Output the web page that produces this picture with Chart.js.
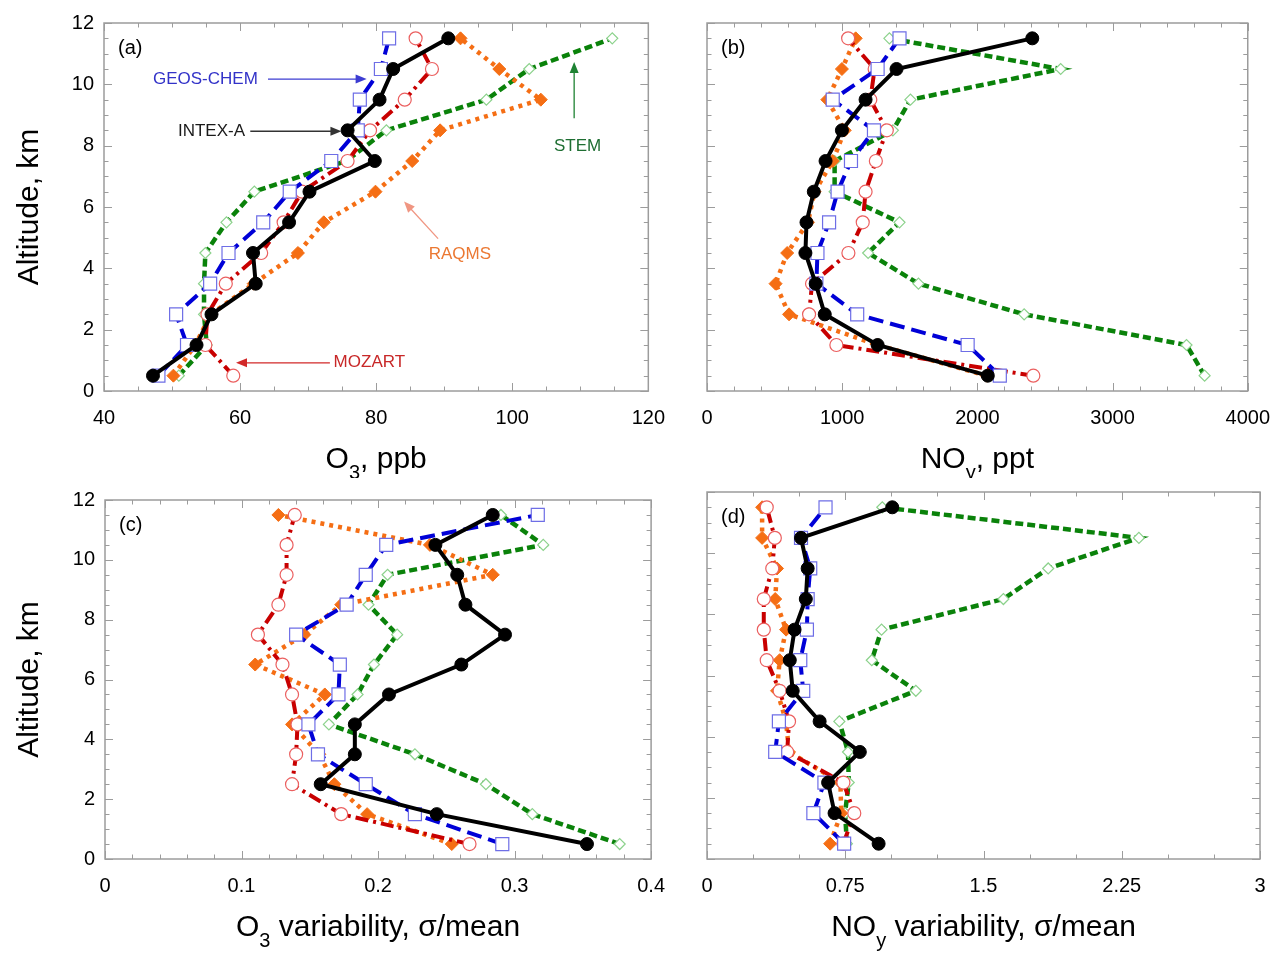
<!DOCTYPE html>
<html>
<head>
<meta charset="utf-8">
<title>INTEX-A vertical profiles</title>
<script src="https://cdn.jsdelivr.net/npm/chart.js@4/dist/chart.umd.min.js"></script>
<style>
  body { margin: 0; background: #fff; }
  #page { position: relative; width: 1285px; height: 956px; overflow: hidden; }
  canvas { position: absolute; }
</style>
</head>
<body>
<div id="page">
  <canvas id="chart-a" width="680" height="478" style="left:0;top:0"></canvas>
  <canvas id="chart-b" width="605" height="478" style="left:680px;top:0"></canvas>
  <canvas id="chart-c" width="680" height="478" style="left:0;top:478px"></canvas>
  <canvas id="chart-d" width="605" height="478" style="left:680px;top:478px"></canvas>
</div>
<script>
// Altitude bins (km), shared by every panel
const altitudes = [0.5, 1.5, 2.5, 3.5, 4.5, 5.5, 6.5, 7.5, 8.5, 9.5, 10.5, 11.5];
const seriesNames = ['INTEX-A', 'GEOS-CHEM', 'MOZART', 'RAQMS', 'STEM'];

// (a) O3, ppb
const o3Intex  = [47.2, 53.6, 55.8, 62.3, 61.9, 67.2, 70.2, 79.8, 75.8, 80.5, 82.5, 90.6];
const o3Geos   = [48.0, 52.2, 50.6, 55.6, 58.3, 63.4, 67.3, 73.4, 77.3, 77.6, 80.7, 81.9];
const o3Mozart = [59.0, 54.9, 55.2, 57.9, 63.1, 66.4, 69.1, 75.8, 79.1, 84.2, 88.2, 85.8];
const o3Raqms  = [50.2, 53.4, 55.7, 62.0, 68.5, 72.3, 79.9, 85.3, 89.4, 104.2, 98.1, 92.4];
const o3Stem   = [51.0, 55.1, 54.7, 54.7, 54.9, 58.0, 62.1, 75.6, 81.5, 96.2, 102.5, 114.7];

// (b) NOy, ppt
const noyIntex  = [2077, 1262, 871, 804, 728, 736, 790, 877, 998, 1173, 1402, 2406];
const noyGeos   = [2166, 1928, 1111, 809, 817, 903, 966, 1065, 1235, 930, 1262, 1424];
const noyMozart = [2414, 957, 755, 777, 1046, 1152, 1173, 1249, 1330, 1208, 1240, 1044];
const noyRaqms  = [2069, 1262, 607, 507, 593, 747, 796, 930, 1019, 890, 998, 1100];
const noyStem   = [3681, 3547, 2346, 1564, 1192, 1424, 944, 944, 1375, 1505, 2616, 1349];

// (c) O3 variability, sigma/mean
const o3vIntex  = [0.353, 0.243, 0.158, 0.183, 0.183, 0.208, 0.261, 0.293, 0.264, 0.258, 0.242, 0.284];
const o3vGeos   = [0.291, 0.227, 0.191, 0.156, 0.149, 0.171, 0.172, 0.140, 0.177, 0.191, 0.206, 0.317];
const o3vMozart = [0.267, 0.173, 0.137, 0.140, 0.141, 0.137, 0.130, 0.112, 0.127, 0.133, 0.133, 0.139];
const o3vRaqms  = [0.254, 0.192, 0.168, 0.157, 0.137, 0.161, 0.110, 0.146, 0.173, 0.284, 0.238, 0.127];
const o3vStem   = [0.377, 0.313, 0.279, 0.227, 0.164, 0.185, 0.197, 0.214, 0.193, 0.207, 0.321, 0.290];

// (d) NOy variability, sigma/mean
const noyvIntex  = [0.931, 0.692, 0.657, 0.829, 0.611, 0.465, 0.449, 0.475, 0.536, 0.546, 0.510, 1.005];
const noyvGeos   = [0.744, 0.577, 0.637, 0.370, 0.390, 0.522, 0.506, 0.542, 0.546, 0.560, 0.510, 0.643];
const noyvMozart = [0.740, 0.799, 0.740, 0.435, 0.445, 0.394, 0.324, 0.308, 0.308, 0.354, 0.368, 0.324];
const noyvRaqms  = [0.668, 0.728, 0.724, 0.445, 0.429, 0.380, 0.394, 0.429, 0.370, 0.380, 0.299, 0.299];
const noyvStem   = [0.759, 0.749, 0.769, 0.765, 0.718, 1.133, 0.894, 0.947, 1.608, 1.851, 2.343, 0.951];

// Axis tick settings
const yTicks = { min: 0, max: 12, step: 2, minor: 0.5 };
const xTicksA = { min: 40, max: 120, step: 20, minor: 5 };
const xTicksB = { min: 0, max: 4000, step: 1000, minor: 200 };
const xTicksC = { min: 0, max: 0.4, step: 0.1, minor: 0.02 };
const xTicksD = { min: 0, max: 3, step: 0.75, minor: 0.25 };

const FONT = '"Liberation Sans", Arial, Helvetica, sans-serif';

// line / marker style per model, same order as seriesNames
const seriesStyles = [
    { color: '#000000', width: 4, dash: [], point: 'circle', radius: 6.5, fill: '#000000', edge: '#000000', edgeWidth: 1 },
    { color: 'rgb(0,0,215)', width: 4, dash: [15, 7], point: 'rect', radius: 9.2, fill: '#ffffff', edge: 'rgb(110,110,230)', edgeWidth: 1.2 },
    { color: 'rgb(200,0,0)', width: 4, dash: [13, 5, 3, 5], point: 'circle', radius: 6.5, fill: '#ffffff', edge: 'rgb(235,95,95)', edgeWidth: 1.2 },
    { color: 'rgb(245,110,20)', width: 4.5, dash: [4, 5], point: 'rectRot', radius: 6.5, fill: 'rgb(245,110,20)', edge: 'rgb(245,110,20)', edgeWidth: 1 },
    { color: 'rgb(10,130,10)', width: 4.5, dash: [8, 4], point: 'rectRot', radius: 5.5, fill: '#ffffff', edge: 'rgb(140,210,140)', edgeWidth: 1.2 }
];

// panel (a) callouts, in data coordinates
const notesA = [
    { text: 'GEOS-CHEM', x: 54.9, y: 10.17, color: 'rgb(50,50,200)' },
    { text: 'INTEX-A', x: 55.8, y: 8.47, color: '#1a1a1a' },
    { text: 'STEM', x: 109.6, y: 7.98, color: 'rgb(30,110,50)' },
    { text: 'RAQMS', x: 92.3, y: 4.45, color: 'rgb(235,120,50)' },
    { text: 'MOZART', x: 79.0, y: 0.92, color: 'rgb(200,40,40)' }
];
const arrowsA = [
    { from: [64.1, 10.17], to: [78.6, 10.17], color: 'rgb(60,60,210)' },
    { from: [61.5, 8.47], to: [74.9, 8.47], color: '#333333' },
    { from: [109.1, 8.89], to: [109.1, 10.73], color: 'rgb(30,130,50)' },
    { from: [89.1, 4.97], to: [84.1, 6.18], color: 'rgb(240,150,130)' },
    { from: [73.2, 0.92], to: [59.4, 0.92], color: 'rgb(210,40,40)' }
];

function fmt(v) {
    return String(parseFloat(Number(v).toFixed(3)));
}

function strokeLine(ctx, x1, y1, x2, y2) {
    ctx.beginPath();
    ctx.moveTo(x1, y1);
    ctx.lineTo(x2, y2);
    ctx.stroke();
}

function drawArrow(ctx, x1, y1, x2, y2, color) {
    const ang = Math.atan2(y2 - y1, x2 - x1);
    const head = 11, half = 4.5;
    ctx.strokeStyle = color;
    ctx.fillStyle = color;
    ctx.lineWidth = 1.3;
    strokeLine(ctx, x1, y1, x2 - Math.cos(ang) * head * 0.8, y2 - Math.sin(ang) * head * 0.8);
    ctx.beginPath();
    ctx.moveTo(x2, y2);
    ctx.lineTo(x2 - Math.cos(ang) * head - Math.sin(ang) * half, y2 - Math.sin(ang) * head + Math.cos(ang) * half);
    ctx.lineTo(x2 - Math.cos(ang) * head + Math.sin(ang) * half, y2 - Math.sin(ang) * head - Math.cos(ang) * half);
    ctx.closePath();
    ctx.fill();
}

// text made of pieces, some of them subscripts
function drawParts(ctx, parts, cx, baseline, size) {
    const subSize = Math.round(size * 0.68);
    let total = 0;
    parts.forEach(p => {
        ctx.font = (p.sub ? subSize : size) + 'px ' + FONT;
        total += ctx.measureText(p.t).width;
    });
    let x = cx - total / 2;
    ctx.fillStyle = '#000';
    ctx.textAlign = 'left';
    ctx.textBaseline = 'alphabetic';
    parts.forEach(p => {
        ctx.font = (p.sub ? subSize : size) + 'px ' + FONT;
        ctx.fillText(p.t, x, baseline + (p.sub ? size * 0.36 : 0));
        x += ctx.measureText(p.t).width;
    });
}

const panelDecor = {
    id: 'panelDecor',
    beforeDatasetsDraw(chart, args, opts) {
        const { ctx, chartArea: a, scales: { x, y } } = chart;
        ctx.save();
        ctx.strokeStyle = '#9c9c9c';
        ctx.lineWidth = 1;
        const xTicks = (step, len) => {
            const n = Math.round((x.max - x.min) / step);
            for (let k = 0; k <= n; k++) {
                const px = Math.round(x.getPixelForValue(x.min + k * step)) + 0.5;
                strokeLine(ctx, px, a.bottom, px, a.bottom - len);
                strokeLine(ctx, px, a.top, px, a.top + len);
            }
        };
        const yTicksDraw = (step, len) => {
            const n = Math.round((y.max - y.min) / step);
            for (let k = 0; k <= n; k++) {
                const py = Math.round(y.getPixelForValue(y.min + k * step)) + 0.5;
                strokeLine(ctx, a.left, py, a.left + len, py);
                strokeLine(ctx, a.right, py, a.right - len, py);
            }
        };
        xTicks(opts.xMinor, 4.5);
        xTicks(opts.xStep, 8);
        yTicksDraw(yTicks.minor, 4.5);
        yTicksDraw(yTicks.step, 8);
        ctx.lineWidth = 1.5;
        ctx.strokeRect(a.left, a.top, a.right - a.left, a.bottom - a.top);
        ctx.restore();
    },
    afterDraw(chart, args, opts) {
        const { ctx, chartArea: a, scales: { x, y } } = chart;
        ctx.save();
        // panel letter
        ctx.font = '20px ' + FONT;
        ctx.fillStyle = '#000';
        ctx.textAlign = 'left';
        ctx.textBaseline = 'middle';
        ctx.fillText(opts.letter, a.left + 14, a.top + 25);

        // x axis title
        drawParts(ctx, opts.xTitle, (a.left + a.right) / 2, a.bottom + opts.titleGap, 30);

        // y axis title
        if (opts.yTitle) {
            ctx.save();
            ctx.translate(30, (a.top + a.bottom) / 2);
            ctx.rotate(-Math.PI / 2);
            ctx.font = '30px ' + FONT;
            ctx.textAlign = 'center';
            ctx.textBaseline = 'middle';
            ctx.fillStyle = '#000';
            ctx.fillText(opts.yTitle, 0, 0);
            ctx.restore();
        }

        // callouts
        (opts.arrows || []).forEach(ar => {
            drawArrow(ctx, x.getPixelForValue(ar.from[0]), y.getPixelForValue(ar.from[1]),
                x.getPixelForValue(ar.to[0]), y.getPixelForValue(ar.to[1]), ar.color);
        });
        (opts.notes || []).forEach(n => {
            ctx.font = '17px ' + FONT;
            ctx.fillStyle = n.color;
            ctx.textAlign = 'center';
            ctx.textBaseline = 'middle';
            ctx.fillText(n.text, x.getPixelForValue(n.x), y.getPixelForValue(n.y));
        });
        ctx.restore();
    }
};

function makeDatasets(valueLists) {
    return valueLists.map((vals, i) => {
        const s = seriesStyles[i];
        return {
            label: seriesNames[i],
            data: vals.map((v, k) => ({ x: v, y: altitudes[k] })),
            showLine: true,
            borderColor: s.color,
            borderWidth: s.width,
            borderDash: s.dash,
            pointStyle: s.point,
            pointRadius: s.radius,
            pointBackgroundColor: s.fill,
            pointBorderColor: s.edge,
            pointBorderWidth: s.edgeWidth,
            tension: 0,
            clip: false
        };
    });
}

function makePanel(id, cfg) {
    const canvas = document.getElementById(id);
    const W = canvas.width, H = canvas.height;
    const area = cfg.area;
    return new Chart(canvas, {
        type: 'scatter',
        data: { datasets: makeDatasets(cfg.series) },
        options: {
            responsive: false,
            animation: false,
            events: [],
            layout: { padding: { left: 0, top: area.top, right: W - area.right, bottom: 0 } },
            scales: {
                x: {
                    type: 'linear',
                    position: 'bottom',
                    min: cfg.xTicks.min,
                    max: cfg.xTicks.max,
                    grid: { display: false, drawTicks: false },
                    border: { display: false },
                    ticks: {
                        stepSize: cfg.xTicks.step,
                        autoSkip: false,
                        maxRotation: 0,
                        minRotation: 0,
                        padding: 15,
                        color: '#000',
                        font: { family: FONT, size: 20 },
                        callback: v => fmt(v)
                    },
                    afterFit: s => { s.height = H - area.bottom; }
                },
                y: {
                    type: 'linear',
                    position: 'left',
                    min: yTicks.min,
                    max: yTicks.max,
                    grid: { display: false, drawTicks: false },
                    border: { display: false },
                    ticks: {
                        display: cfg.yLabels,
                        stepSize: yTicks.step,
                        autoSkip: false,
                        padding: 10,
                        color: '#000',
                        font: { family: FONT, size: 20 },
                        callback: v => fmt(v)
                    },
                    afterFit: s => { s.width = area.left; }
                }
            },
            plugins: {
                legend: { display: false },
                tooltip: { enabled: false },
                panelDecor: {
                    letter: cfg.letter,
                    xTitle: cfg.xTitle,
                    yTitle: cfg.yLabels ? 'Altitude, km' : null,
                    titleGap: cfg.titleGap,
                    xStep: cfg.xTicks.step,
                    xMinor: cfg.xTicks.minor,
                    notes: cfg.notes,
                    arrows: cfg.arrows
                }
            }
        },
        plugins: [panelDecor]
    });
}

makePanel('chart-a', {
    series: [o3Intex, o3Geos, o3Mozart, o3Raqms, o3Stem],
    xTicks: xTicksA,
    area: { left: 104, top: 23, right: 658, bottom: 391 },
    yLabels: true,
    letter: '(a)',
    xTitle: [{ t: 'O' }, { t: '3', sub: true }, { t: ', ppb' }],
    titleGap: 77,
    notes: notesA,
    arrows: arrowsA
});

makePanel('chart-b', {
    series: [noyIntex, noyGeos, noyMozart, noyRaqms, noyStem],
    xTicks: xTicksB,
    area: { left: 27, top: 23, right: 580, bottom: 391 },
    yLabels: false,
    letter: '(b)',
    xTitle: [{ t: 'NO' }, { t: 'y', sub: true }, { t: ', ppt' }],
    titleGap: 77
});

makePanel('chart-c', {
    series: [o3vIntex, o3vGeos, o3vMozart, o3vRaqms, o3vStem],
    xTicks: xTicksC,
    area: { left: 105, top: 14, right: 658, bottom: 381 },
    yLabels: true,
    letter: '(c)',
    xTitle: [{ t: 'O' }, { t: '3', sub: true }, { t: ' variability, \u03c3/mean' }],
    titleGap: 77
});

makePanel('chart-d', {
    series: [noyvIntex, noyvGeos, noyvMozart, noyvRaqms, noyvStem],
    xTicks: xTicksD,
    area: { left: 27, top: 14, right: 580, bottom: 381 },
    yLabels: false,
    letter: '(d)',
    xTitle: [{ t: 'NO' }, { t: 'y', sub: true }, { t: ' variability, \u03c3/mean' }],
    titleGap: 77
});
</script>
</body>
</html>
